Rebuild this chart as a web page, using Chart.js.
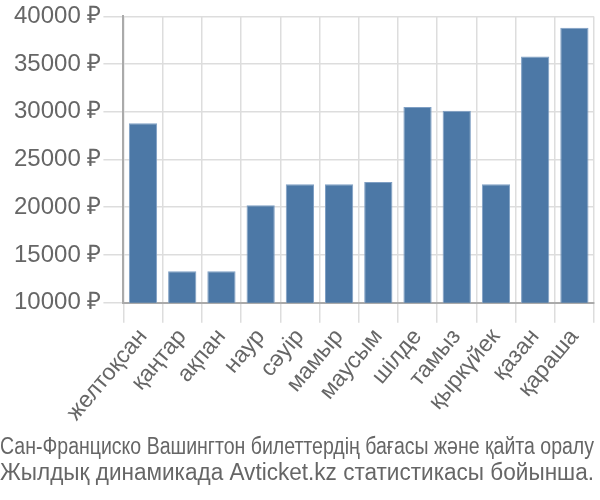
<!DOCTYPE html>
<html>
<head>
<meta charset="utf-8">
<script src="https://cdn.jsdelivr.net/npm/chart.js@4"></script>
<style>
  html, body { margin: 0; padding: 0; background: #fff; }
  #wrap { width: 600px; height: 500px; }
</style>
</head>
<body>
<div id="wrap"><canvas id="chart" width="600" height="500"></canvas></div>
<script>
  // Data
  var months = ["желтоқсан", "қаңтар", "ақпан", "наур", "сәуір", "мамыр", "маусым",
                "шілде", "тамыз", "қыркүйек", "қазан", "қараша"];
  var prices = [28800, 13300, 13300, 20200, 22400, 22400, 22650,
                30500, 30100, 22400, 35800, 38800];
  var captionLines = ["Сан-Франциско Вашингтон билеттердің бағасы және қайта оралу",
                      "Жылдық динамикада Avticket.kz статистикасы бойынша."];

  var fontName = "'Liberation Sans', Arial, sans-serif";

  var ctx = document.getElementById("chart").getContext("2d");
  var chart = new Chart(ctx, {
    type: "bar",
    data: {
      labels: months,
      datasets: [
        {
          data: prices,
          backgroundColor: "#4c78a6",
          borderColor: "#7f9fc4",
          borderWidth: 1,
          categoryPercentage: 0.72,
          barPercentage: 1,
        },
      ],
    },
    options: {
      responsive: false,
      animation: false,
      layout: { padding: { top: 5, right: 6, left: 0, bottom: 0 } },
      plugins: {
        legend: { display: false },
        tooltip: { enabled: false },
        title: {
          display: true,
          position: "bottom",
          text: captionLines,
          color: "#666",
          font: { family: fontName, size: 23, weight: "normal", lineHeight: 1.1 },
          padding: { top: 8, bottom: 14 },
        },
      },
      scales: {
        x: {
          grid: {
            color: function (c) { return c.index === months.length ? "rgba(0,0,0,0)" : "#ddd"; },
            lineWidth: 1.5,
            tickLength: 20,
            offset: true,
          },
          border: { color: "#aaa", width: 2 },
          ticks: {
            color: "#666",
            font: { family: fontName, size: 23 },
            autoSkip: false,
            minRotation: 50,
            maxRotation: 50,
            padding: 1,
          },
        },
        y: {
          min: 10000,
          max: 40000,
          afterFit: function (scale) { scale.width += 12; },
          grid: { color: "#ddd", lineWidth: 1.5, tickLength: 20 },
          border: { color: "#aaa", width: 2 },
          ticks: {
            stepSize: 5000,
            color: "#666",
            font: { family: fontName, size: 24 },
            padding: 2,
            callback: function (v) { return v + " ₽"; },
          },
        },
      },
    },
  });
</script>
</body>
</html>
